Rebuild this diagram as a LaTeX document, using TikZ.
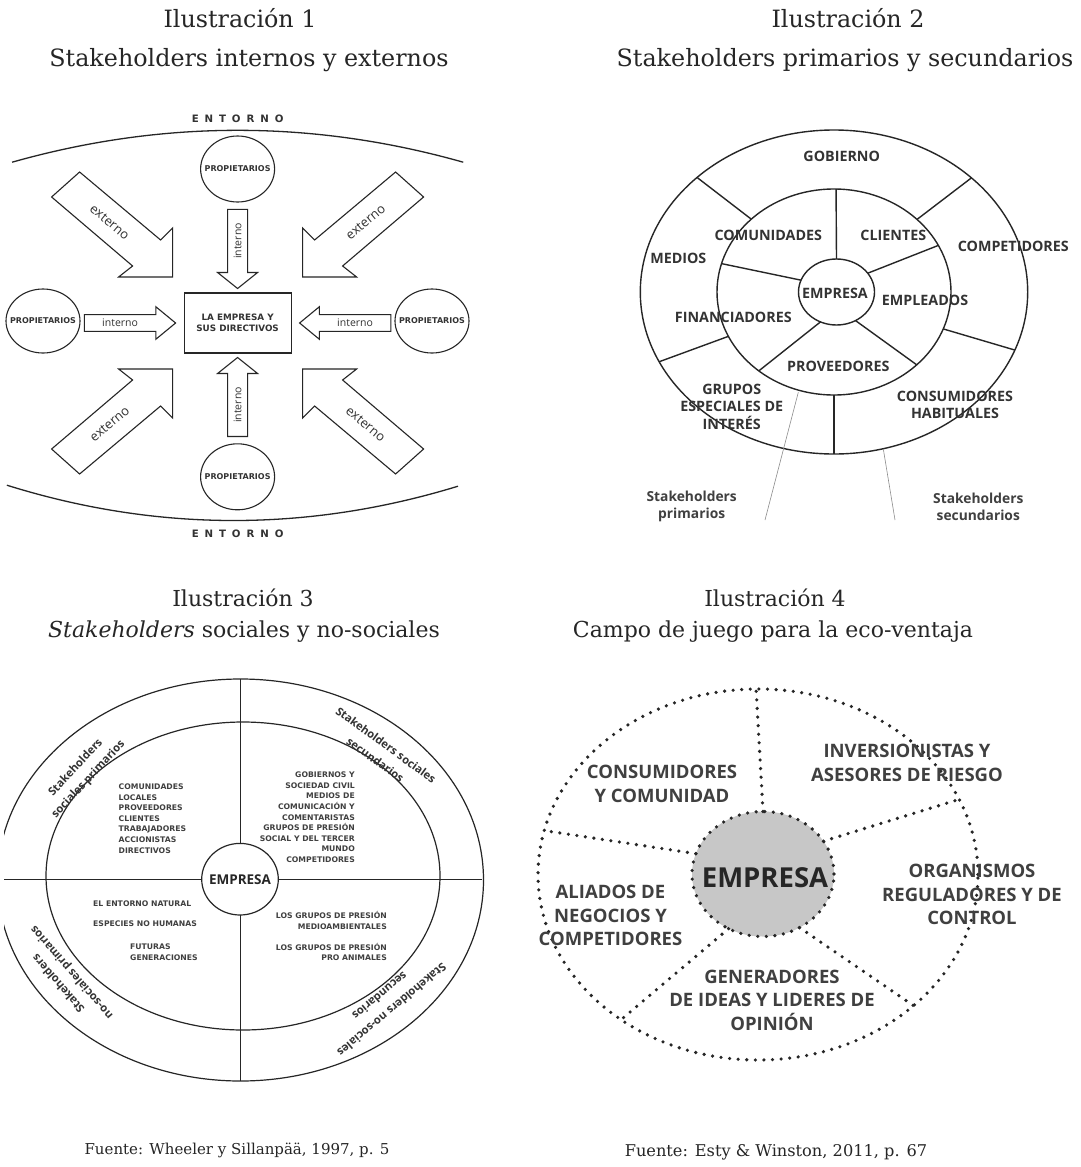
\documentclass[tikz,border=0pt]{standalone}
\usepackage{fontspec}
\setmainfont{DejaVu Serif}
\newfontfamily\osans{Open Sans}
\newfontfamily\dsans{DejaVu Sans}
\newfontfamily\wsans[LetterSpace=58]{DejaVu Sans}
\usetikzlibrary{calc}

\begin{document}
\begin{tikzpicture}[x=1pt,y=-1pt,
  ttl/.style={font=\fontsize{22}{26}\selectfont, text=black!85, inner sep=0},
  ttlbig/.style={font=\fontsize{23.8}{28}\selectfont, text=black!85, inner sep=0},
  src/.style={font=\fontsize{15}{18}\selectfont, text=black!85, inner sep=0},
  % panel 1
  env/.style={line width=1.3pt, black!85},
  entorno/.style={font=\wsans\bfseries\fontsize{10.2}{12}\selectfont, text=black!80, inner sep=0},
  ln1/.style={line width=1.1pt, black!85},
  own/.style={font=\dsans\bfseries\fontsize{8}{9}\selectfont, text=black!80, inner sep=0},
  firm/.style={draw=black!85, line width=1.1pt, minimum width=107pt, minimum height=60pt,
    align=center, font=\dsans\bfseries\fontsize{8.8}{11.5}\selectfont, text=black!80, inner sep=0},
  blk/.style={draw=black!85, line width=1.1pt, fill=white, line join=miter},
  ext/.style={font=\osans\fontsize{13}{15}\selectfont, text=black!80, inner sep=0},
  int/.style={font=\osans\fontsize{10.5}{12}\selectfont, text=black!80, inner sep=0},
  % panel 2
  ln2/.style={line width=1.4pt, black!85},
  thin2/.style={line width=0.6pt, black!45},
  lab2/.style={font=\osans\bfseries\fontsize{14.3}{17.6}\selectfont, text=black!80, align=center, inner sep=0},
  sh2/.style={font=\osans\bfseries\fontsize{13.8}{16.7}\selectfont, text=black!75, align=center, inner sep=0},
  % panel 3
  ln3/.style={line width=1.2pt, black!85},
  tiny3/.style={font=\dsans\bfseries\fontsize{7.7}{10.6}\selectfont, text=black!75, inner sep=0},
  ring3/.style={font=\osans\bfseries\fontsize{11.2}{12}\selectfont, text=black!80, inner sep=0},
  emp3/.style={font=\osans\bfseries\fontsize{13.5}{15}\selectfont, text=black!85, inner sep=0},
  % panel 4
  dots/.style={line width=3.6pt, black!85, line cap=round, dash pattern=on 0pt off 8.6pt},
  lab4/.style={font=\osans\bfseries\fontsize{18.5}{23.5}\selectfont, text=black!75, align=center, inner sep=0},
  emp4/.style={font=\osans\bfseries\fontsize{27.5}{30}\selectfont, text=black!85, inner sep=0}
]
\fill[white] (0,0) rectangle (1081,1167);
\useasboundingbox (0,0) rectangle (1081,1167);

% ---------- headings and sources ----------
\node[ttlbig] (t1a) at (240,18) {Ilustración 1};
\node[ttlbig] (t1b) at (249,60) {Stakeholders internos y externos};
\node[ttlbig] (t2a) at (848,18) {Ilustración 2};
\node[ttlbig] (t2b) at (845,60) {Stakeholders primarios y secundarios};
\node[ttl] (t3a) at (243,598) {Ilustración 3};
\node[ttl] (t3b) at (244,632) {\textit{Stakeholders} sociales y no-sociales};
\node[ttl] (t4a) at (775,598) {Ilustración 4};
\node[ttl] (t4b) at (773,632) {Campo de juego para la eco-ventaja};
\node[src] (s3) at (237,1150) {Fuente: Wheeler y Sillanpää, 1997, p. 5};
\node[src, font=\fontsize{16.2}{18}\selectfont] (s4) at (776,1152) {Fuente: Esty \& Winston, 2011, p. 67};

% ---------- 1: internal and external stakeholders ----------
\coordinate (m1) at (237.6,323);
\draw[env] (12.1,162.2) .. controls (162.5,119.7) and (312.8,119.7) .. (463.2,162.2);
\draw[env] (6.9,485.2) .. controls (157,532.1) and (308,532.1) .. (458,486.2);
\node[entorno] (env-n) at (237.6,118.5) {ENTORNO};
\node[entorno] (env-s) at (237.6,534) {ENTORNO};

\draw[ln1] (237.6,169) ellipse [x radius=37pt, y radius=33pt];
\draw[ln1] (43,321) ellipse [x radius=37pt, y radius=32pt];
\draw[ln1] (432,321) ellipse [x radius=37pt, y radius=32pt];
\draw[ln1] (237.6,476.8) ellipse [x radius=37pt, y radius=33pt];
\node[own] (own-n) at (237.6,169) {PROPIETARIOS};
\node[own] (own-w) at (43,321) {PROPIETARIOS};
\node[own] (own-e) at (432,321) {PROPIETARIOS};
\node[own] (own-s) at (237.6,476.8) {PROPIETARIOS};

\node[firm] (firm) at (m1) {LA EMPRESA Y\\SUS DIRECTIVOS};

\begin{scope}[shift={(m1)}]
  % internal arrows
  \draw[blk] (-10,-113.7) -- (10,-113.7) -- (10,-50.5) -- (20,-50.5) -- (0,-34.5)
    -- (-20,-50.5) -- (-10,-50.5) -- cycle;
  \draw[blk] (-10,113.5) -- (10,113.5) -- (10,50.5) -- (20,50.5) -- (0,34.5)
    -- (-20,50.5) -- (-10,50.5) -- cycle;
  \draw[blk] (-153.2,-8.4) -- (-81.8,-8.4) -- (-81.8,-16.3) -- (-62,0) -- (-81.8,16.3)
    -- (-81.8,8.4) -- (-153.2,8.4) -- cycle;
  \draw[blk] (153.2,-8.4) -- (81.8,-8.4) -- (81.8,-16.3) -- (62,0) -- (81.8,16.3)
    -- (81.8,8.4) -- (153.2,8.4) -- cycle;
\end{scope}
% external arrows
\foreach \sx/\sy in {1/1,-1/1,1/-1,-1/-1}{
  \begin{scope}[shift={(m1)}, xscale=\sx, yscale=\sy]
    \draw[blk] (-158,-151) -- (-77,-83) -- (-65,-95) -- (-65,-46) -- (-119,-46)
      -- (-105,-57) -- (-186,-126) -- cycle;
  \end{scope}
}
\node[ext, rotate=-40] (ext-nw) at (109.6,222) {externo};
\node[ext, rotate=40]  (ext-ne) at (365.6,222) {externo};
\node[ext, rotate=40]  (ext-sw) at (109.6,424) {externo};
\node[ext, rotate=-40] (ext-se) at (365.6,424) {externo};
\node[int] (int-w) at (120.1,323) {interno};
\node[int] (int-e) at (355.1,323) {interno};
\node[int, rotate=90] (int-n) at (237.6,241) {interno};
\node[int, rotate=90] (int-s) at (237.6,405) {interno};

% ---------- 2: primary and secondary stakeholders ----------
\coordinate (c2) at (834,292);
\coordinate (e2) at (836.5,292);
\draw[ln2] (c2) ellipse [x radius=193.7pt, y radius=162pt];
\draw[ln2] (c2) ellipse [x radius=117pt, y radius=103pt];
\draw[ln2] (e2) ellipse [x radius=38pt, y radius=33pt];
\foreach \a/\b in {-90/-89, 201/196, -34.7/-26.9, 60/45, 115/130}
  \draw[ln2] ($(e2)+({38*cos(\a)},{33*sin(\a)})$) -- ($(c2)+({117*cos(\b)},{103*sin(\b)})$);
\foreach \a in {225,-44.8,21,90,154.5}
  \draw[ln2] ($(c2)+({117*cos(\a)},{103*sin(\a)})$) -- ($(c2)+({193.7*cos(\a)},{162*sin(\a)})$);

\node[lab2] (gob) at (841.7,156) {GOBIERNO};
\node[lab2] (com) at (768.3,235) {COMUNIDADES};
\node[lab2] (cli) at (893.3,235) {CLIENTES};
\node[lab2] (cpt) at (1013.3,246) {COMPETIDORES};
\node[lab2] (med) at (678.3,258.3) {MEDIOS};
\node[lab2] (emp2) at (835,293.3) {EMPRESA};
\node[lab2] (epl) at (925,300.7) {EMPLEADOS};
\node[lab2] (fin) at (733.3,317.7) {FINANCIADORES};
\node[lab2] (prv) at (838.3,366) {PROVEEDORES};
\node[lab2] (gru) at (731.7,406.7) {GRUPOS\\ESPECIALES DE\\INTERÉS};
\node[lab2] (cns) at (955,405) {CONSUMIDORES\\HABITUALES};

\coordinate (pl-a) at (798.3,392.3);
\coordinate (pl-b) at (765,520);
\coordinate (sl-a) at (883.3,449);
\coordinate (sl-b) at (895,520);
\draw[thin2] (pl-a) -- (pl-b);
\draw[thin2] (sl-a) -- (sl-b);
\node[sh2] (prim) at (691.7,506.7) {Stakeholders\\primarios};
\node[sh2] (secu) at (978.3,506.7) {Stakeholders\\secundarios};

% ---------- 3: social and non-social stakeholders ----------
\begin{scope}
  \clip (4,640) rectangle (540,1100);
  \draw[ln3] (240.5,880) ellipse [x radius=243pt, y radius=201pt];
  \draw[ln3] (0,879.3) -- (482,879.3);
\end{scope}
\draw[ln3] (243,876) ellipse [x radius=197pt, y radius=154pt];
\draw[ln3] (240.5,679) -- (240.5,1081);
\filldraw[ln3, fill=white] (240,879.2) ellipse [x radius=38.3pt, y radius=35.8pt];
\node[emp3] (emp3) at (240,879.5) {EMPRESA};

\node[tiny3, anchor=north west, align=left] (q-ul) at (118.5,783.5)
  {COMUNIDADES\\LOCALES\\PROVEEDORES\\CLIENTES\\TRABAJADORES\\ACCIONISTAS\\DIRECTIVOS};
\node[tiny3, anchor=north east, align=right] (q-ur) at (355,771.8)
  {GOBIERNOS Y\\SOCIEDAD CIVIL\\MEDIOS DE\\COMUNICACIÓN Y\\COMENTARISTAS\\GRUPOS DE PRESIÓN\\SOCIAL Y DEL TERCER\\MUNDO\\COMPETIDORES};
\node[tiny3, anchor=west] (q-ll1) at (93,904) {EL ENTORNO NATURAL};
\node[tiny3, anchor=west] (q-ll2) at (93,923.3) {ESPECIES NO HUMANAS};
\node[tiny3, anchor=west] (q-ll3) at (130,946.7) {FUTURAS};
\node[tiny3, anchor=west] (q-ll4) at (130,957.3) {GENERACIONES};
\node[tiny3, anchor=east] (q-lr1) at (387,915) {LOS GRUPOS DE PRESIÓN};
\node[tiny3, anchor=east] (q-lr2) at (387,926.7) {MEDIOAMBIENTALES};
\node[tiny3, anchor=east] (q-lr3) at (387,946.7) {LOS GRUPOS DE PRESIÓN};
\node[tiny3, anchor=east] (q-lr4) at (387,957.3) {PRO ANIMALES};

\node[ring3, rotate=47]   (r-ul1) at (75,767) {Stakeholders};
\node[ring3, rotate=47]   (r-ul2) at (88.5,779.5) {sociales primarios};
\node[ring3, rotate=-36]  (r-ur1) at (386,745) {Stakeholders sociales};
\node[ring3, rotate=-36]  (r-ur2) at (375.4,759.6) {secundarios};
\node[ring3, rotate=131]  (r-ll1) at (58,984) {Stakeholders};
\node[ring3, rotate=131]  (r-ll2) at (72,972) {no-sociales primarios};
\node[ring3, rotate=-140] (r-lr1) at (392,1010) {Stakeholders no-sociales};
\node[ring3, rotate=-140] (r-lr2) at (380,996) {secundarios};

% ---------- 4: playing field for eco-advantage ----------
\coordinate (c4) at (758,874.5);
\coordinate (e4) at (763,874);
\fill[black!22] (e4) ellipse [x radius=71pt, y radius=62.5pt];
\draw[dots] (c4) ellipse [x radius=220pt, y radius=185.5pt];
\draw[dots] (e4) ellipse [x radius=71pt, y radius=62.5pt];
\foreach \a/\b in {-90/-90.5, -31.7/-23.9, 59/45, 119/128.5, 199/193.7}
  \draw[dots] ($(e4)+({71*cos(\a)},{62.5*sin(\a)})$) -- ($(c4)+({220*cos(\b)},{185.5*sin(\b)})$);

\node[emp4] (emp4) at (765,878) {EMPRESA};
\node[lab4] (cons4) at (662,784) {CONSUMIDORES\\Y COMUNIDAD};
\node[lab4] (inv4) at (907,762.8) {INVERSIONISTAS Y\\ASESORES DE RIESGO};
\node[lab4] (org4) at (972,894.4) {ORGANISMOS\\REGULADORES Y DE\\CONTROL};
\node[lab4] (ali4) at (610.5,915.7) {ALIADOS DE\\NEGOCIOS Y\\COMPETIDORES};
\node[lab4] (gen4) at (772,999.9) {GENERADORES\\DE IDEAS Y LIDERES DE\\OPINIÓN};
\end{tikzpicture}
\end{document}
